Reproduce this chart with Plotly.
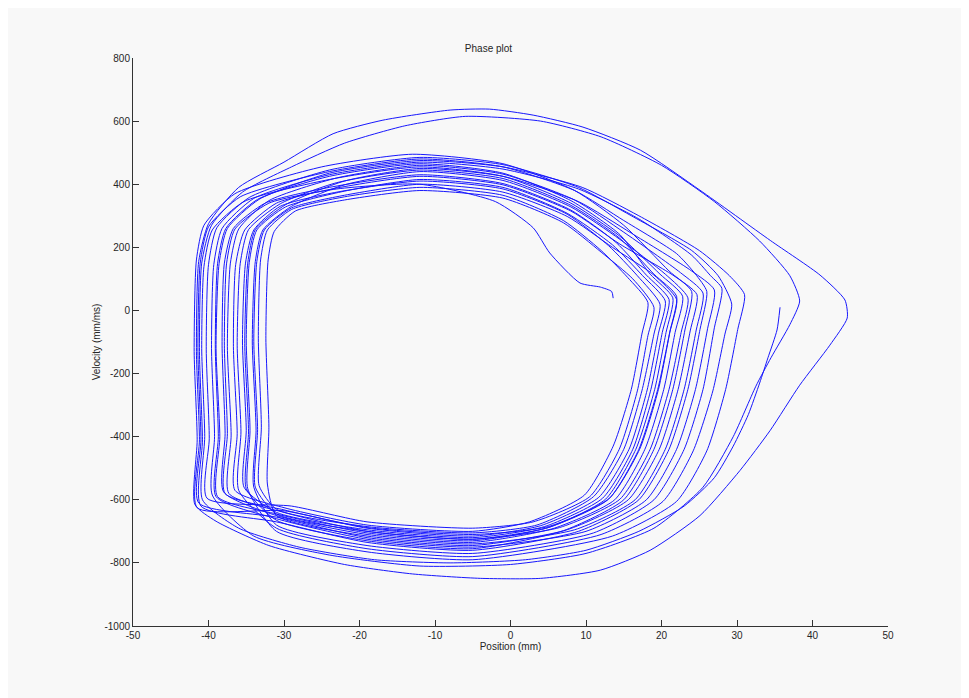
import plotly.graph_objects as go

# ---- data: phase-plot cycles (position mm, velocity mm/ms) ----
start_pos = [35.7, 35.3, 34.1, 33.0, 31.5, 29.5, 27.0, 23.0, 17.0, 10.0, 2.0, -8.0, -18.0, -28.0, -36.0]
start_vel = [10, -62, -150, -230, -330, -430, -530, -620, -700, -760, -790, -800, -790, -750, -690]

c01_pos = [-40.8, -40.5, -40.9, -40.6, -39.5, -35.3, -24, -12, -1, 8, 14.5, 19.8, 22.8, 21.8, 20.3, 17.8, 13.8, 5.8, -5, -19, -31]
c01_vel = [-600, -400, -120, 140, 255, 345, 415, 455, 425, 340, 235, 115, 45, -70, -250, -440, -600, -690, -735, -710, -650]

c02_pos = [-38.0, -37.8, -38.2, -37.9, -36.7, -32.5, -24, -12, -1, 8, 14, 18, 21.0, 20.1, 18.6, 16.2, 12.2, 4.5, -5, -19, -31]
c02_vel = [-575, -390, -110, 150, 260, 340, 390, 430, 402, 318, 215, 112, 35, -70, -250, -440, -595, -685, -720, -695, -640]

c03_pos = [-35.3, -35.0, -35.5, -35.1, -34.0, -30.5, -23, -12, -1, 7.5, 13, 16.8, 19.8, 19.0, 17.4, 15.0, 11.0, 3.5, -5, -19, -31]
c03_vel = [-560, -380, -100, 150, 255, 330, 375, 410, 385, 305, 205, 110, 20, -75, -255, -440, -590, -680, -705, -685, -630]

c04_pos = [-33.3, -33.0, -33.4, -33.1, -32.2, -29.0, -22, -12, -1, 7, 12, 15.5, 18.2, 17.4, 16.0, 13.6, 9.8, 2.5, -5, -19, -30]
c04_vel = [-555, -370, -90, 160, 255, 320, 360, 390, 365, 285, 190, 105, 25, -75, -250, -430, -585, -670, -700, -680, -625]

c05_pos = [-36.5, -36.2, -36.7, -36.4, -35.2, -31.0, -23, -12, -1, 8, 14.5, 21.5, 24.7, 23.8, 22.2, 19.7, 15.6, 7.5, -5, -19, -31]
c05_vel = [-570, -390, -115, 145, 255, 340, 388, 425, 398, 315, 210, 112, 50, -65, -250, -440, -600, -695, -745, -720, -655]

c06_pos = [-41.3, -41.0, -41.4, -41.1, -40.0, -35.8, -24, -12, -1, 8.5, 15, 22, 24.5, 26.0, 25.1, 23.5, 21.0, 17.0, 9.0, -5, -19, -31]
c06_vel = [-610, -410, -130, 150, 265, 360, 440, 480, 455, 380, 285, 180, 115, 60, -60, -250, -440, -600, -700, -760, -735, -670]

c07_pos = [-39.5, -39.2, -39.6, -39.3, -38.2, -34.0, -24, -12, -1, 9, 17, 24, 26.5, 28.0, 27.0, 25.5, 23.0, 19.0, 11.0, -5, -19, -31]
c07_vel = [-585, -400, -120, 145, 260, 355, 430, 470, 448, 385, 290, 175, 110, 70, -55, -250, -440, -600, -705, -770, -745, -680]

c08_pos = [-34.0, -33.7, -34.2, -33.8, -32.8, -29.0, -22, -12, -1, 8, 14.5, 20.5, 23.5, 22.6, 21.0, 18.5, 14.5, 6.5, -5, -19, -30]
c08_vel = [-560, -380, -100, 155, 255, 330, 398, 440, 412, 328, 225, 115, 40, -70, -250, -440, -598, -688, -725, -700, -640]

c09_pos = [-37.3, -37.0, -37.5, -37.1, -36.0, -32.0, -23, -12, -1, 8.5, 15, 22.5, 25.5, 24.6, 23.0, 20.5, 16.5, 8.5, -5, -19, -31]
c09_vel = [-580, -395, -115, 150, 258, 348, 420, 460, 432, 350, 248, 120, 55, -62, -250, -440, -600, -695, -740, -715, -650]

c10_pos = [-32.2, -32.0, -32.4, -32.1, -31.3, -28.5, -22, -12, -1, 7, 12, 16.2, 19.0, 18.2, 16.8, 14.4, 10.5, 3.0, -5, -19, -29]
c10_vel = [-550, -370, -90, 160, 250, 315, 350, 380, 356, 278, 185, 100, 10, -80, -255, -440, -590, -670, -690, -670, -620]

c11_pos = [-40.2, -39.9, -40.3, -40.0, -38.9, -34.6, -24, -12, -1, 9, 16, 24, 27.5, 29.3, 28.4, 26.8, 24.2, 20.2, 12.0, -5, -19, -31]
c11_vel = [-595, -405, -125, 145, 262, 358, 445, 485, 462, 390, 300, 190, 110, 20, -75, -255, -445, -605, -710, -780, -755, -690]

c12_pos = [-36.0, -35.7, -36.2, -35.8, -34.7, -30.5, -23, -12, -1, 8, 14.5, 19, 22.0, 21.1, 19.5, 17.0, 13.0, 5.0, -5, -19, -31]
c12_vel = [-570, -385, -110, 148, 256, 338, 405, 445, 418, 333, 228, 115, 45, -68, -250, -440, -598, -688, -730, -705, -645]

c13_pos = [-38.8, -38.5, -39.0, -38.6, -37.5, -33.3, -24, -12, -1, 9.5, 17, 25, 29, 31.0, 30.1, 28.5, 26.0, 22.0, 13.5, -5, -19, -31]
c13_vel = [-590, -400, -120, 148, 260, 352, 435, 475, 455, 390, 300, 190, 110, 50, -60, -250, -445, -605, -715, -790, -765, -700]

c14_pos = [-34.8, -34.5, -35.0, -34.6, -33.6, -29.8, -22, -12, -1, 7.5, 13.5, 17.5, 20.5, 19.6, 18.1, 15.7, 11.7, 4.0, -5, -19, -30]
c14_vel = [-565, -380, -100, 152, 255, 328, 378, 415, 390, 308, 208, 110, 30, -72, -252, -440, -592, -682, -715, -690, -635]

c15_pos = [-41.8, -41.5, -41.9, -41.6, -40.6, -36.5, -25, -13, -1, 8.5, 15, 21, 24.0, 23.1, 21.5, 19.0, 15.0, 7.0, -5, -19, -31]
c15_vel = [-615, -410, -130, 160, 270, 370, 455, 495, 465, 380, 270, 125, 60, -62, -250, -440, -600, -698, -755, -730, -665]

big2_pos = [-41.0, -40.8, -41.2, -40.9, -39.6, -35.5, -29, -22, -14, -6, 4, 12, 20, 27, 33, 37, 38.3, 37.0, 34.5, 32.5, 29.5, 25.5, 19, 10, 0, -12, -24, -34]
big2_vel = [-620, -410, -130, 150, 270, 375, 455, 530, 585, 615, 600, 550, 460, 345, 220, 110, 30, -45, -150, -240, -400, -560, -690, -770, -805, -810, -775, -715]

big1_pos = [-41.5, -41.2, -41.6, -41.3, -40.0, -36.0, -30, -23.5, -16.9, -8, -2.8, 3, 9.6, 17.2, 25.1, 34.4, 41, 44.3, 44.6, 42.3, 38.3, 34.4, 30.4, 25.1, 18.5, 11.9, 4, -4, -13, -22, -32, -39]
big1_vel = [-625, -410, -130, 155, 275, 390, 470, 560, 603, 635, 638, 619, 581, 508, 381, 222, 112, 33, -24, -110, -237, -380, -507, -650, -760, -823, -849, -849, -835, -805, -745, -668]

c18_pos = [-35.0, -34.7, -35.2, -34.8, -33.8, -29.8, -22, -12, -1, 9, 16, 24, 27.0, 26.1, 24.5, 22.0, 18.0, 10.0, -5, -19, -31]
c18_vel = [-565, -385, -105, 150, 256, 335, 410, 450, 425, 345, 245, 125, 65, -58, -250, -440, -600, -700, -750, -725, -660]

c19_pos = [-39.0, -38.7, -39.1, -38.8, -37.7, -33.5, -24, -12, -1, 8, 14.5, 18.5, 21.5, 20.6, 19.1, 16.6, 12.6, 5.0, -5, -19, -31]
c19_vel = [-590, -400, -120, 148, 260, 352, 425, 465, 435, 348, 240, 115, 40, -70, -250, -440, -598, -688, -725, -700, -645]

c20_pos = [-33.8, -33.5, -34.0, -33.6, -32.6, -29.0, -22, -12, -1, 7.5, 13.5, 19, 22.0, 21.1, 19.6, 17.1, 13.1, 5.0, -5, -19, -30]
c20_vel = [-560, -378, -98, 155, 255, 325, 365, 400, 375, 298, 200, 112, 35, -70, -250, -440, -595, -685, -710, -688, -632]

end_pos = [-37.8, -37.5, -37.9, -37.6, -36.5, -32.0, -23, -12, -2, 3.0, 5.2, 9.2, 11.9, 13.4, 13.6]
end_vel = [-580, -390, -110, 150, 258, 340, 385, 400, 345, 262, 182, 87, 74, 60, 39]

x_ticks = [-50, -40, -30, -20, -10, 0, 10, 20, 30, 40, 50]
y_ticks = [-1000, -800, -600, -400, -200, 0, 200, 400, 600, 800]

segments = [
    (start_pos, start_vel), (c01_pos, c01_vel), (c02_pos, c02_vel), (c03_pos, c03_vel),
    (c04_pos, c04_vel), (c05_pos, c05_vel), (c06_pos, c06_vel), (big2_pos, big2_vel),
    (c07_pos, c07_vel), (c08_pos, c08_vel), (c09_pos, c09_vel), (c10_pos, c10_vel),
    (c11_pos, c11_vel), (c12_pos, c12_vel), (c13_pos, c13_vel), (c14_pos, c14_vel),
    (big1_pos, big1_vel), (c15_pos, c15_vel), (c18_pos, c18_vel), (c19_pos, c19_vel),
    (c20_pos, c20_vel), (end_pos, end_vel),
]
position = [p for seg in segments for p in seg[0]]
velocity = [v for seg in segments for v in seg[1]]

fig = go.Figure()
fig.add_trace(go.Scatter(
    x=position, y=velocity, mode="lines",
    line=dict(color="#0000ff", width=1, shape="spline", smoothing=0.6),
    opacity=0.9, showlegend=False, hoverinfo="skip",
))

font = dict(family="Liberation Sans, Arial, sans-serif", size=10, color="#262626")
axis_common = dict(
    showgrid=False, zeroline=False, showline=True, linecolor="#333333", linewidth=1,
    ticks="inside", ticklen=6, tickcolor="#333333", tickwidth=1, mirror=False,
    tickfont=font,
)
fig.update_xaxes(range=[-50, 50], tickvals=x_ticks, ticktext=[str(t) for t in x_ticks],
                 title=dict(text="Position (mm)", font=font, standoff=0), **axis_common)
fig.update_yaxes(range=[-1000, 800], tickvals=y_ticks, ticktext=[str(t) for t in y_ticks],
                 title=dict(text="Velocity (mm/ms)", font=font, standoff=1), **axis_common)

fig.update_layout(
    width=961, height=690,
    margin=dict(l=125, r=81, t=50, b=72),
    paper_bgcolor="#f8f8f8", plot_bgcolor="rgba(0,0,0,0)",
    font=font,
    title=dict(text="Phase plot", x=0.5, xanchor="center", y=1 - 40 / 690, yanchor="middle",
               font=dict(family="Liberation Sans, Arial, sans-serif", size=10, color="#262626")),
)

fig.write_html("out.html")
